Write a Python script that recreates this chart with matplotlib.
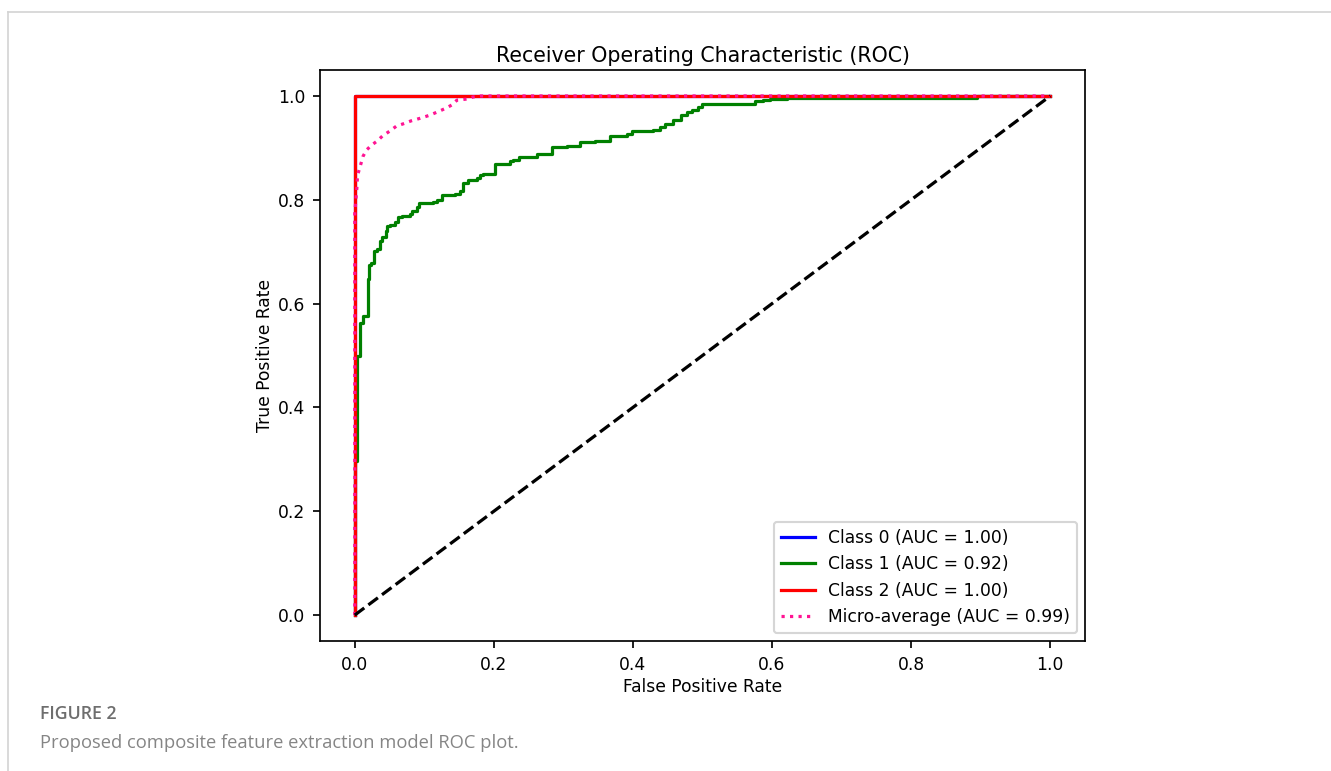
import matplotlib
matplotlib.use("Agg")
import matplotlib.pyplot as plt
from matplotlib.lines import Line2D

# pontos (fpr, tpr)
fpr0 = [0.0, 0.0, 1.0]
tpr0 = [0.0, 1.0, 1.0]

fpr1 = [0.0, 0.0, 0.003, 0.007, 0.012, 0.019, 0.020, 0.024, 0.027, 0.032, 0.036,
        0.039, 0.045, 0.047, 0.050, 0.058, 0.062, 0.068, 0.079, 0.083, 0.089,
        0.092, 0.112, 0.118, 0.125, 0.144, 0.151, 0.155, 0.163, 0.176, 0.180,
        0.185, 0.201, 0.223, 0.227, 0.236, 0.262, 0.283, 0.305, 0.324, 0.345,
        0.367, 0.391, 0.399, 0.429, 0.439, 0.446, 0.458, 0.469, 0.478, 0.485,
        0.494, 0.499, 0.576, 0.587, 0.597, 0.622, 0.895, 1.0]
tpr1 = [0.0, 0.296, 0.500, 0.563, 0.577, 0.648, 0.675, 0.679, 0.702, 0.706, 0.721,
        0.729, 0.739, 0.750, 0.752, 0.758, 0.766, 0.768, 0.772, 0.778, 0.787,
        0.793, 0.796, 0.799, 0.809, 0.812, 0.816, 0.832, 0.838, 0.841, 0.847,
        0.849, 0.868, 0.874, 0.876, 0.882, 0.888, 0.901, 0.903, 0.911, 0.913,
        0.923, 0.926, 0.932, 0.934, 0.940, 0.946, 0.954, 0.963, 0.969, 0.973,
        0.979, 0.985, 0.990, 0.992, 0.995, 0.996, 1.0, 1.0]

fpr2 = [0.0, 0.0, 1.0]
tpr2 = [0.0, 1.0, 1.0]

fpr_micro = [0.0, 0.0, 0.003, 0.004, 0.009, 0.012, 0.017, 0.024, 0.032, 0.040, 0.050,
             0.060, 0.069, 0.081, 0.094, 0.108, 0.122, 0.132, 0.140, 0.147, 0.161,
             0.170, 0.180, 1.0]
tpr_micro = [0.0, 0.774, 0.822, 0.847, 0.870, 0.884, 0.896, 0.905, 0.913, 0.923, 0.932,
             0.942, 0.946, 0.952, 0.957, 0.963, 0.971, 0.977, 0.983, 0.992, 0.994,
             0.998, 1.0, 1.0]

auc = [1.00, 0.92, 1.00]
auc_micro = 0.99

plt.rcParams['font.size'] = 8
fig = plt.figure(figsize=(1331/154, 771/154), dpi=154)
ax = fig.add_axes([0.2404, 0.1686, 0.5748, 0.7406])

ax.plot(fpr0, tpr0, color='blue', label=f'Class 0 (AUC = {auc[0]:.2f})')
ax.plot(fpr1, tpr1, color='green', drawstyle='steps-post', label=f'Class 1 (AUC = {auc[1]:.2f})')
ax.plot(fpr2, tpr2, color='red', label=f'Class 2 (AUC = {auc[2]:.2f})')
ax.plot(fpr_micro, tpr_micro, color='deeppink', linestyle=':', label=f'Micro-average (AUC = {auc_micro:.2f})')
ax.plot([0, 1], [0, 1], 'k--')

ax.set_title('Receiver Operating Characteristic (ROC)', fontsize=9.6, pad=3.8)
ax.set_xlabel('False Positive Rate', labelpad=1.8)
ax.set_ylabel('True Positive Rate', labelpad=1.5)
ax.legend(loc='lower right', borderaxespad=0.45)

# moldura e legenda da figura
cinza = '#d4d4d4'
fig.add_artist(Line2D([8/1331, 1.0], [1 - 12/771, 1 - 12/771], transform=fig.transFigure, color=cinza, lw=0.8))
fig.add_artist(Line2D([8/1331, 8/1331], [0.0, 1 - 12/771], transform=fig.transFigure, color=cinza, lw=0.8))
fig.text(40/1331, 1 - 714/771, 'FIGURE 2', family='Open Sans', fontsize=8.3,
         fontweight='semibold', color='#6e6e6e', va='center')
fig.text(40/1331, 1 - 743/771, 'Proposed composite feature extraction model ROC plot.',
         family='Open Sans', fontsize=8.6, color='#858585', va='center')

fig.savefig('out.png', dpi=154)
